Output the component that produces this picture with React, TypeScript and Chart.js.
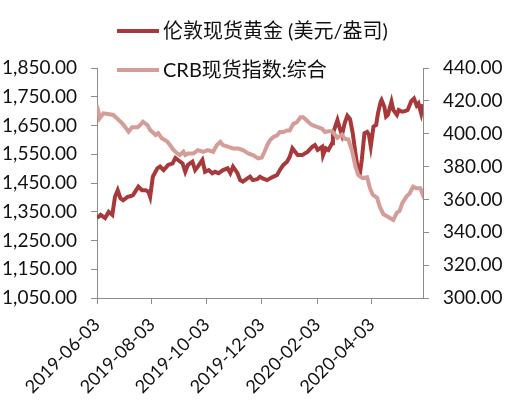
import React, { useEffect, useRef } from "react";
import { Chart, registerables } from "chart.js";

Chart.register(...registerables);

const START_DATE = "2019-06-03";
const END_DATE = "2020-05-30";
const xTickDates = ["2019-06-03", "2019-08-03", "2019-10-03", "2019-12-03", "2020-02-03", "2020-04-03"];

const goldLabel = "伦敦现货黄金 (美元/盎司)";
const crbLabel = "CRB现货指数:综合";

const goldDates = [
  "2019-06-03", "2019-06-07", "2019-06-12", "2019-06-16", "2019-06-20", "2019-06-23", "2019-06-26", "2019-06-29",
  "2019-07-02", "2019-07-07", "2019-07-10", "2019-07-13", "2019-07-19", "2019-07-23", "2019-07-27", "2019-07-30",
  "2019-08-01", "2019-08-04", "2019-08-09", "2019-08-12", "2019-08-16", "2019-08-21", "2019-08-26", "2019-08-29",
  "2019-09-01", "2019-09-06", "2019-09-09", "2019-09-12", "2019-09-17", "2019-09-20", "2019-09-23", "2019-09-28",
  "2019-10-01", "2019-10-05", "2019-10-09", "2019-10-12", "2019-10-16", "2019-10-21", "2019-10-26", "2019-10-29",
  "2019-11-01", "2019-11-06", "2019-11-09", "2019-11-12", "2019-11-17", "2019-11-20", "2019-11-23", "2019-11-28",
  "2019-12-01", "2019-12-04", "2019-12-09", "2019-12-12", "2019-12-16", "2019-12-20", "2019-12-23", "2019-12-27",
  "2019-12-31", "2020-01-03", "2020-01-06", "2020-01-09", "2020-01-12", "2020-01-17", "2020-01-20", "2020-01-23",
  "2020-01-28", "2020-01-31", "2020-02-03", "2020-02-08", "2020-02-09", "2020-02-12", "2020-02-15", "2020-02-19",
  "2020-02-20", "2020-02-25", "2020-02-27", "2020-03-01", "2020-03-04", "2020-03-07", "2020-03-10", "2020-03-13",
  "2020-03-16", "2020-03-19", "2020-03-21", "2020-03-23", "2020-03-26", "2020-03-29", "2020-03-31", "2020-04-02",
  "2020-04-05", "2020-04-08", "2020-04-10", "2020-04-13", "2020-04-14", "2020-04-17", "2020-04-19", "2020-04-21",
  "2020-04-25", "2020-04-27", "2020-05-01", "2020-05-03", "2020-05-07", "2020-05-10", "2020-05-13", "2020-05-17",
  "2020-05-20", "2020-05-23", "2020-05-25", "2020-05-28", "2020-05-30",
];
const goldValues = [
  1328, 1339, 1328, 1350, 1339, 1402, 1425, 1397,
  1390, 1402, 1404, 1408, 1437, 1425, 1425, 1420,
  1402, 1472, 1501, 1507, 1495, 1513, 1518, 1537,
  1530, 1518, 1489, 1513, 1524, 1495, 1507, 1530,
  1489, 1495, 1484, 1489, 1484, 1495, 1501, 1484,
  1507, 1484, 1460, 1455, 1466, 1472, 1460, 1463,
  1472, 1466, 1460, 1466, 1472, 1478, 1495, 1513,
  1524, 1541, 1571, 1559, 1547, 1547, 1553, 1559,
  1576, 1582, 1565, 1576, 1547, 1571, 1565, 1588,
  1623, 1669, 1646, 1617, 1658, 1684, 1672, 1623,
  1553, 1490, 1484, 1530, 1623, 1628, 1617, 1578,
  1646, 1652, 1692, 1733, 1739, 1716, 1681, 1687,
  1733, 1704, 1687, 1704, 1698, 1700, 1704, 1735,
  1744, 1720, 1727, 1692, 1724,
];

const crbDates = [
  "2019-06-03", "2019-06-06", "2019-06-10", "2019-06-15", "2019-06-21", "2019-06-25", "2019-07-01", "2019-07-04",
  "2019-07-08", "2019-07-12", "2019-07-18", "2019-07-21", "2019-07-24", "2019-07-29", "2019-08-01", "2019-08-07",
  "2019-08-10", "2019-08-14", "2019-08-20", "2019-08-23", "2019-08-27", "2019-08-31", "2019-09-03", "2019-09-07",
  "2019-09-09", "2019-09-12", "2019-09-18", "2019-09-23", "2019-09-29", "2019-10-04", "2019-10-10", "2019-10-14",
  "2019-10-18", "2019-10-21", "2019-10-27", "2019-11-01", "2019-11-07", "2019-11-12", "2019-11-18", "2019-11-23",
  "2019-11-29", "2019-12-03", "2019-12-06", "2019-12-09", "2019-12-12", "2019-12-16", "2019-12-20", "2019-12-23",
  "2019-12-27", "2019-12-31", "2020-01-03", "2020-01-07", "2020-01-11", "2020-01-15", "2020-01-18", "2020-01-22",
  "2020-01-26", "2020-01-29", "2020-02-03", "2020-02-08", "2020-02-11", "2020-02-15", "2020-02-19", "2020-02-25",
  "2020-03-01", "2020-03-04", "2020-03-08", "2020-03-12", "2020-03-16", "2020-03-19", "2020-03-21", "2020-03-24",
  "2020-03-29", "2020-04-01", "2020-04-04", "2020-04-09", "2020-04-12", "2020-04-16", "2020-04-21", "2020-04-27",
  "2020-05-01", "2020-05-04", "2020-05-07", "2020-05-12", "2020-05-15", "2020-05-19", "2020-05-23", "2020-05-27",
  "2020-05-29", "2020-05-30",
];
const crbValues = [
  417, 409.4, 412.4, 412, 411.4, 409.4, 406.3, 404.3,
  401.2, 404, 404, 405.3, 407.3, 405.3, 402.3, 399.2,
  400.3, 397.2, 395.2, 393.1, 390.1, 388, 387, 389,
  387, 388, 388, 390, 389, 390, 389, 393,
  395, 393, 392, 391, 391, 390, 388, 387,
  385, 385.5, 389, 393, 396, 398, 399, 401,
  401, 402, 402, 406, 407, 410, 410, 408,
  406, 405, 404, 403, 401, 401.5, 401.5, 397.5,
  399.5, 397, 396.5, 390, 380, 375, 374, 373,
  373.5, 367, 363, 361, 355.6, 351, 349.5, 347.5,
  352, 353, 357.7, 362, 363.5, 367.8, 366.8, 366.8,
  364, 366.5,
];

const DAY = 86400000;
const dayOf = (d: string) => Math.round((Date.parse(d) - Date.parse(START_DATE)) / DAY);
const toPoints = (dates: string[], values: number[]) => dates.map((d, i) => ({ x: dayOf(d), y: values[i] }));

const GOLD_COLOR = "#A8393A";
const CRB_COLOR = "#D59C98";
const AXIS_COLOR = "#8C8C8C";
const TEXT_COLOR = "#111111";
const FONT_FAMILY = "Lato, 'Noto Sans CJK SC', sans-serif";

const legendPlugin = {
  id: "customLegend",
  afterDraw(chart: any) {
    const ctx = chart.ctx;
    const items = [
      { label: goldLabel, color: GOLD_COLOR },
      { label: crbLabel, color: CRB_COLOR },
    ];
    ctx.save();
    items.forEach((it, i) => {
      const y = 31 + i * 39;
      ctx.strokeStyle = it.color;
      ctx.lineWidth = 4;
      ctx.lineCap = "butt";
      ctx.beginPath();
      ctx.moveTo(117, y);
      ctx.lineTo(159, y);
      ctx.stroke();
      ctx.fillStyle = TEXT_COLOR;
      ctx.font = `20px ${FONT_FAMILY}`;
      ctx.textBaseline = "middle";
      ctx.textAlign = "left";
      ctx.fillText(it.label, 163, y + 1);
    });
    ctx.restore();
  },
};

export default function App() {
  const canvasRef = useRef<HTMLCanvasElement | null>(null);

  useEffect(() => {
    if (!canvasRef.current) return;
    const tickLabelMap: Record<number, string> = {};
    xTickDates.forEach((d) => (tickLabelMap[dayOf(d)] = d));

    const chart = new Chart(canvasRef.current, {
      type: "line",
      data: {
        datasets: [
          {
            label: goldLabel,
            data: toPoints(goldDates, goldValues),
            borderColor: GOLD_COLOR,
            borderWidth: 4,
            pointRadius: 0,
            tension: 0,
            yAxisID: "y",
            order: 2,
          },
          {
            label: crbLabel,
            data: toPoints(crbDates, crbValues),
            borderColor: CRB_COLOR,
            borderWidth: 4,
            pointRadius: 0,
            tension: 0,
            yAxisID: "y1",
            order: 1,
          },
        ],
      },
      options: {
        animation: false,
        responsive: false,
        devicePixelRatio: 1,
        layout: { padding: { top: 68, left: 0, right: 0, bottom: 0 } },
        plugins: { legend: { display: false }, tooltip: { enabled: false } },
        scales: {
          x: {
            type: "linear",
            min: 0,
            max: dayOf(END_DATE),
            afterBuildTicks: (scale: any) => {
              scale.ticks = xTickDates.map((d) => ({ value: dayOf(d) }));
            },
            afterFit: (scale: any) => {
              scale.height = 114;
            },
            ticks: {
              autoSkip: false,
              minRotation: 45,
              maxRotation: 45,
              padding: 10,
              color: TEXT_COLOR,
              font: { family: FONT_FAMILY, size: 18 },
              callback: (v: any) => tickLabelMap[Math.round(Number(v))] ?? "",
            },
            grid: { drawOnChartArea: false, drawTicks: true, tickLength: 6, color: AXIS_COLOR },
            border: { display: true, color: AXIS_COLOR, width: 1 },
          },
          y: {
            position: "left",
            min: 1050,
            max: 1850,
            afterFit: (scale: any) => {
              scale.width = 97;
            },
            ticks: {
              stepSize: 100,
              padding: 14,
              color: TEXT_COLOR,
              font: { family: FONT_FAMILY, size: 19 },
              callback: (v: any) =>
                Number(v).toLocaleString("en-US", { minimumFractionDigits: 2, maximumFractionDigits: 2 }),
            },
            grid: { drawOnChartArea: false, drawTicks: true, tickLength: 6, color: AXIS_COLOR },
            border: { display: true, color: AXIS_COLOR, width: 1 },
          },
          y1: {
            position: "right",
            min: 300,
            max: 440,
            afterFit: (scale: any) => {
              scale.width = 83;
            },
            ticks: {
              stepSize: 20,
              padding: 14,
              color: TEXT_COLOR,
              font: { family: FONT_FAMILY, size: 19 },
              callback: (v: any) => Number(v).toFixed(2),
            },
            grid: { drawOnChartArea: false, drawTicks: true, tickLength: 6, color: AXIS_COLOR },
            border: { display: true, color: AXIS_COLOR, width: 1 },
          },
        },
      },
      plugins: [legendPlugin],
    });
    return () => chart.destroy();
  }, []);

  return (
    <div style={{ position: "fixed", left: 0, top: 0, width: 506, height: 412, background: "#fff" }}>
      <canvas ref={canvasRef} width={506} height={412} style={{ width: 506, height: 412 }} />
    </div>
  );
}
